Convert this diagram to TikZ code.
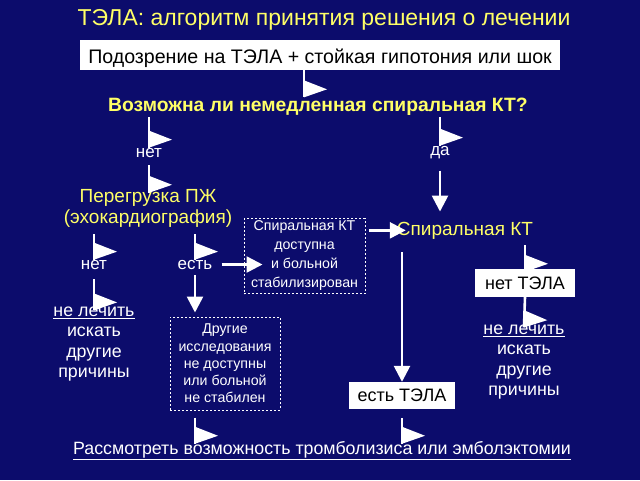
\documentclass[tikz,border=0pt]{standalone}
\usepackage{fontspec}
\setmainfont{Liberation Sans}
\usetikzlibrary{arrows.meta,decorations.markings}

\definecolor{slidebg}{RGB}{12,12,108}
\definecolor{slideyellow}{RGB}{255,255,102}

\tikzset{
  yellowtext/.style={text=slideyellow, inner sep=0pt},
  whitetext/.style={text=white, inner sep=0pt},
  whitebox/.style={fill=white, text=black, inner sep=0pt},
  dashbox/.style={draw=white, dash pattern=on 2pt off 2pt, line width=1pt,
    text=white, align=center, inner sep=0pt},
  flagarrow/.style={draw=white, line width=2.6pt,
    postaction={decorate, decoration={markings,
      mark=at position 1 with {\fill[white] (-17pt,0pt) -- (-8pt,23pt) -- (0pt,0pt) -- cycle;}}}},
  downarrow/.style={draw=white, line width=2.6pt, -{Triangle[length=16pt,width=16pt]}},
}

\begin{document}
\begin{tikzpicture}[x=1pt,y=-1pt]
  \fill[slidebg] (0,0) rectangle (640,480);
  \useasboundingbox (0,0) rectangle (640,480);

  % headline and first question
  \node[yellowtext, anchor=base, font=\fontsize{23}{26}\selectfont] (title) at (324,25)
    {ТЭЛА: алгоритм принятия решения о лечении};
  \node[whitebox, minimum width=480pt, minimum height=30pt] (susp) at (320,55) {};
  \node[anchor=base, inner sep=0pt, font=\fontsize{19.6}{22}\selectfont] (susptext) at (320,63)
    {Подозрение на ТЭЛА + стойкая гипотония или шок};
  \node[yellowtext, anchor=base, font=\bfseries\fontsize{19.3}{22}\selectfont] (q) at (318,111)
    {Возможна ли немедленная спиральная КТ?};
  \node[whitetext, anchor=base, font=\fontsize{17}{20}\selectfont] (no1) at (149,157) {нет};
  \node[whitetext, anchor=base, font=\fontsize{17}{20}\selectfont] (yes1) at (440,155) {да};

  % left branch
  \node[yellowtext, align=center, font=\fontsize{19}{21}\selectfont] (rv) at (148,208)
    {Перегрузка ПЖ\\(эхокардиография)};
  \node[whitetext, anchor=base, font=\fontsize{17}{20}\selectfont] (no2) at (94,269) {нет};
  \node[whitetext, anchor=base, font=\fontsize{17}{20}\selectfont] (yes2) at (195,269) {есть};
  \node[whitetext, align=center, font=\fontsize{17.8}{20.5}\selectfont] (nt1) at (94,344)
    {\underline{не лечить}\\искать\\другие\\причины};
  \node[dashbox, minimum width=121pt, minimum height=75pt, font=\fontsize{14.2}{19}\selectfont] (ctbox) at (304.5,256)
    {Спиральная КТ\\доступна\\и больной\\стабилизирован};
  \node[dashbox, minimum width=110pt, minimum height=93pt, font=\fontsize{14.2}{17.3}\selectfont] (other) at (225,363.5)
    {Другие\\исследования\\не доступны\\или больной\\не стабилен};

  % right branch
  \node[yellowtext, anchor=base, font=\fontsize{19}{20}\selectfont] (ct) at (465,235) {Спиральная КТ};
  \node[whitebox, minimum width=100pt, minimum height=28pt, font=\fontsize{18}{20}\selectfont] (noPE) at (525,283) {нет ТЭЛА};
  \node[whitebox, minimum width=106pt, minimum height=27pt, font=\fontsize{18}{20}\selectfont] (yesPE) at (402,395.5) {есть ТЭЛА};
  \node[whitetext, align=center, font=\fontsize{17.8}{20.5}\selectfont] (nt2) at (524,362)
    {\underline{не лечить}\\искать\\другие\\причины};
  \node[whitetext, anchor=base, font=\fontsize{17.8}{20}\selectfont] (bottom) at (322,454)
    {\underline{Рассмотреть возможность тромболизиса или эмболэктомии}};

  % connectors
  \draw[flagarrow] ([xshift=-16pt]susp.south) -- ([xshift=-16pt]susp.south |- q.north);
  \draw[flagarrow] ([yshift=-2pt]q.south -| no1) -- (no1.north);
  \draw[flagarrow] ([yshift=-2pt]q.south -| yes1) -- (yes1.north);
  \draw[flagarrow] ([yshift=-8pt]no1.south) -- ([yshift=-4pt]rv.north -| no1);
  \draw[downarrow] ([yshift=-12pt]yes1.south) -- ([yshift=10pt]ct.north -| yes1);
  \draw[flagarrow] ([yshift=-7pt]rv.south -| no2) -- (no2.north);
  \draw[flagarrow] ([yshift=-7pt]rv.south -| yes2) -- (yes2.north);
  \draw[downarrow] ([xshift=9pt]yes2.east) -- ([xshift=19pt]ctbox.west |- yes2.center);
  \draw[downarrow] ([yshift=-6pt]yes2.south) -- ([yshift=4pt]other.north -| yes2);
  \draw[downarrow] ([xshift=3pt]ctbox.east |- ct.center) -- ([xshift=9pt]ct.west);
  \draw[flagarrow] ([yshift=-10pt]no2.south) -- ([yshift=-4pt]nt1.north);
  \draw[flagarrow] ([yshift=-7pt]other.south -| yes2) -- ([yshift=-3pt]bottom.north -| yes2);
  \draw[downarrow] ([yshift=-13pt]ct.south -| yesPE) -- (yesPE.north);
  \draw[flagarrow] ([yshift=-9pt]yesPE.south) -- ([yshift=-3pt]bottom.north -| yesPE);
  \draw[flagarrow] ([yshift=-6pt]ct.south -| noPE) -- ([yshift=-3pt]noPE.north);
  \draw[flagarrow] (noPE.south) -- ([yshift=-3pt]nt2.north);
\end{tikzpicture}
\end{document}
